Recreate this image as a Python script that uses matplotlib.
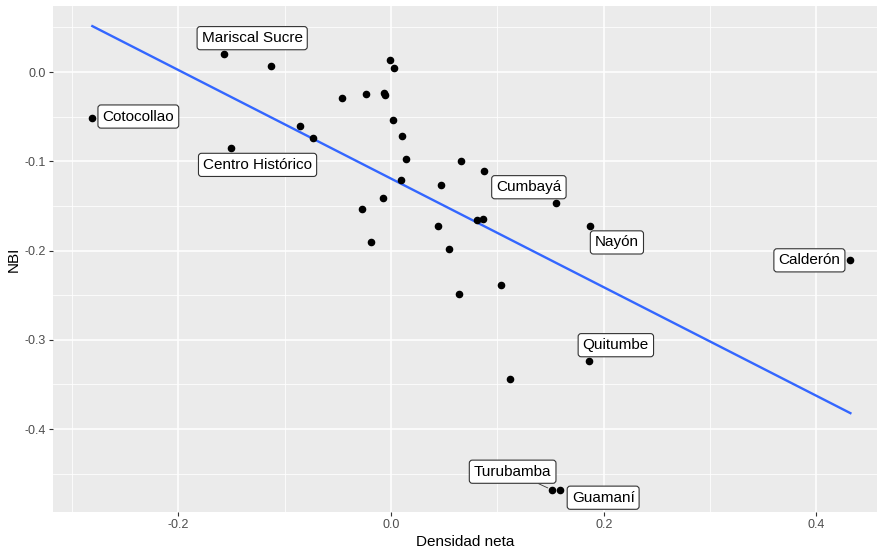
import matplotlib.pyplot as plt
from matplotlib.ticker import MultipleLocator
import numpy as np

plt.rcParams['font.family'] = ['Liberation Sans', 'DejaVu Sans']

# densidad neta vs NBI
dens = [-0.281, -0.157, -0.113, -0.151, -0.086, -0.073, -0.046, -0.024,
        -0.007, -0.006, -0.001, 0.003, 0.002, 0.010, 0.014, 0.009,
        -0.008, -0.027, -0.019, 0.044, 0.047, 0.066, 0.087, 0.155,
        0.081, 0.086, 0.187, 0.054, 0.432, 0.064, 0.103, 0.112,
        0.186, 0.151, 0.159]
nbi = [-0.051, 0.020, 0.007, -0.085, -0.061, -0.074, -0.029, -0.025,
       -0.023, -0.026, 0.013, 0.005, -0.054, -0.072, -0.097, -0.121,
       -0.141, -0.154, -0.191, -0.173, -0.127, -0.100, -0.111, -0.147,
       -0.166, -0.165, -0.173, -0.198, -0.211, -0.249, -0.239, -0.344,
       -0.324, -0.468, -0.468]

names = ['Cotocollao', 'Mariscal Sucre', 'Centro Histórico', 'Cumbayá', 'Nayón',
         'Calderón', 'Quitumbe', 'Turubamba', 'Guamaní']
name_idx = [0, 1, 3, 23, 26, 28, 32, 33, 34]
# label offsets in pixels
offsets = [(46, 1), (28, 16), (27, -17), (-27, 16), (27, -16),
           (-41, 0), (27, 16), (-39, 18), (43, -8)]

fig = plt.figure(figsize=(8.79, 5.53), dpi=100)
ax = fig.add_axes([0.0603, 0.0741, 0.9374, 0.9151])
ax.set_facecolor('#EBEBEB')
for s in ax.spines.values():
    s.set_visible(False)

ax.set_xlim(-0.318, 0.457)
ax.set_ylim(-0.493, 0.074)
ax.xaxis.set_major_locator(MultipleLocator(0.2))
ax.xaxis.set_minor_locator(MultipleLocator(0.1))
ax.yaxis.set_major_locator(MultipleLocator(0.1))
ax.yaxis.set_minor_locator(MultipleLocator(0.05))
ax.grid(which='major', color='white', lw=1.1)
ax.grid(which='minor', color='white', lw=0.55)
ax.set_axisbelow(True)
ax.tick_params(which='major', length=3, width=0.8, color='#333333',
               labelcolor='#4D4D4D', labelsize=9, pad=2)
ax.tick_params(which='minor', length=0)
ax.xaxis.set_major_formatter(lambda v, p: '%.1f' % v if abs(v) > 1e-9 else '0.0')
ax.yaxis.set_major_formatter(lambda v, p: '%.1f' % v if abs(v) > 1e-9 else '0.0')

# linear fit (geom_smooth, method = lm)
x = np.array(dens)
y = np.array(nbi)
b, a = np.polyfit(x, y, 1)
xs = np.linspace(x.min(), x.max(), 80)
ax.plot(xs, a + b * xs, color='#3366FF', lw=1.7, zorder=2)

ax.scatter(x, y, s=20, color='black', zorder=3)

for nm, i, (dx, dy) in zip(names, name_idx, offsets):
    ax.annotate(nm, xy=(x[i], y[i]), xytext=(dx, dy), textcoords='offset pixels',
                ha='center', va='center', fontsize=11, color='black',
                bbox=dict(boxstyle='round,pad=0.3,rounding_size=0.2', fc='white',
                          ec='#333333', lw=0.8),
                arrowprops=dict(arrowstyle='-', color='#333333', lw=0.6,
                                shrinkA=0, shrinkB=3) if nm == 'Turubamba' else None,
                zorder=4)

ax.set_xlabel('Densidad neta', fontsize=11, labelpad=3)
ax.set_ylabel('NBI', fontsize=11, labelpad=3)

fig.savefig('out.png', dpi=100)
